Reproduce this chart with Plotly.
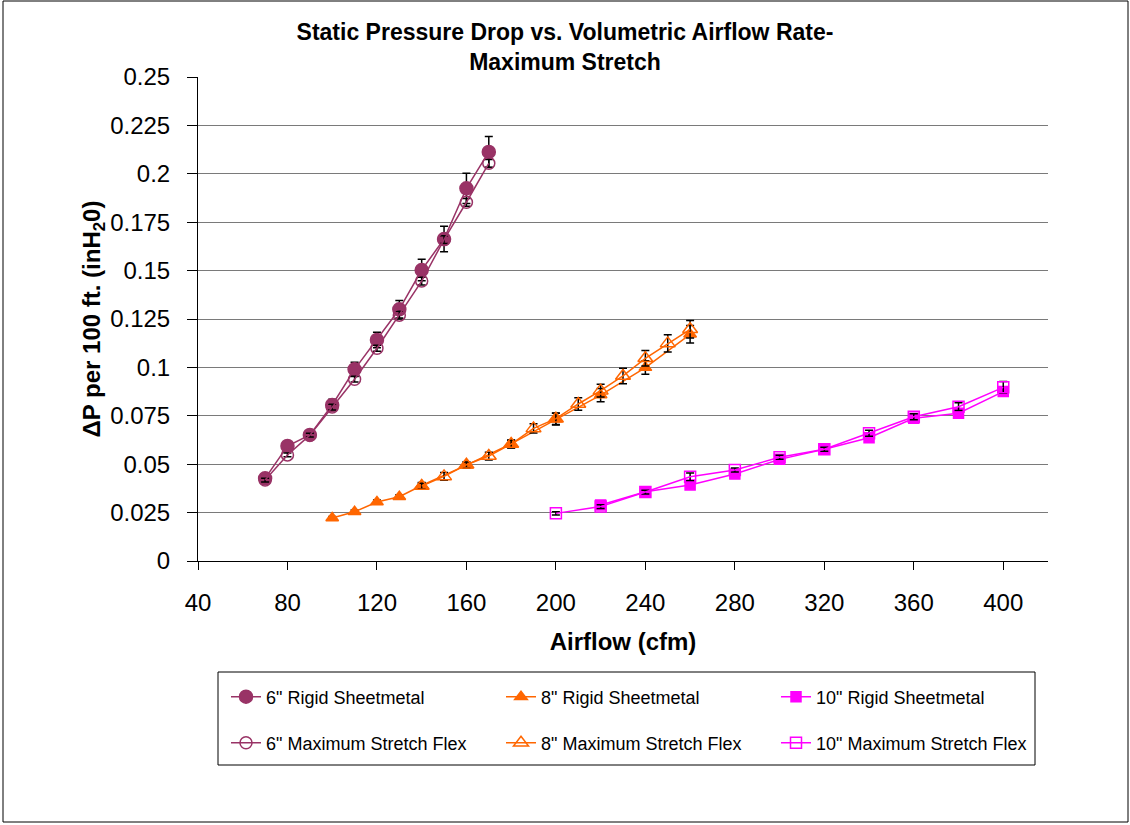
import plotly.graph_objects as go

# ---------------- data ----------------
x6 = [70, 80, 90, 100, 110, 120, 130, 140, 150, 160, 170]
y6_rigid = [0.0427, 0.0594, 0.0651, 0.0806, 0.0990, 0.1142, 0.1300, 0.1503, 0.1663, 0.1925, 0.2113]
e6_rigid = [0.0010, 0.0015, 0.0012, 0.0030, 0.0037, 0.0040, 0.0045, 0.0055, 0.0066, 0.0078, 0.0080]
y6_flex = [0.0418, 0.0548, 0.0650, 0.0795, 0.0939, 0.1099, 0.1270, 0.1446, 0.1660, 0.1853, 0.2054]
e6_flex = [0.0010, 0.0010, 0.0010, 0.0015, 0.0015, 0.0015, 0.0020, 0.0020, 0.0020, 0.0020, 0.0020]

x8_rigid = [100, 110, 120, 130, 140, 160, 180, 200, 220, 240, 260]
y8_rigid = [0.0222, 0.0254, 0.0305, 0.0332, 0.0390, 0.0495, 0.0605, 0.0733, 0.0857, 0.0999, 0.1171]
e8_rigid = [0.0008, 0.0010, 0.0010, 0.0010, 0.0015, 0.0015, 0.0020, 0.0030, 0.0034, 0.0035, 0.0045]
x8_flex = [140, 150, 160, 170, 180, 190, 200, 210, 220, 230, 240, 250, 260]
y8_flex = [0.0387, 0.0437, 0.0497, 0.0542, 0.0604, 0.0685, 0.0735, 0.0811, 0.0880, 0.0956, 0.1047, 0.1124, 0.1197]
e8_flex = [0.0015, 0.0020, 0.0015, 0.0020, 0.0020, 0.0024, 0.0030, 0.0032, 0.0033, 0.0040, 0.0040, 0.0045, 0.0045]

x10_rigid = [220, 240, 260, 280, 300, 320, 340, 360, 380, 400]
y10_rigid = [0.0289, 0.0358, 0.0393, 0.0449, 0.0525, 0.0577, 0.0637, 0.0737, 0.0763, 0.0875]
e10_rigid = [0.0008, 0.0008, 0.0010, 0.0010, 0.0010, 0.0010, 0.0010, 0.0015, 0.0015, 0.0020]
x10_flex = [200, 220, 240, 260, 280, 300, 320, 340, 360, 380, 400]
y10_flex = [0.0246, 0.0281, 0.0356, 0.0435, 0.0470, 0.0536, 0.0577, 0.0660, 0.0745, 0.0797, 0.0897]
e10_flex = [0.0008, 0.0010, 0.0010, 0.0020, 0.0010, 0.0010, 0.0010, 0.0015, 0.0015, 0.0020, 0.0030]

x_ticks = [40, 80, 120, 160, 200, 240, 280, 320, 360, 400]
y_ticks = [0, 0.025, 0.05, 0.075, 0.1, 0.125, 0.15, 0.175, 0.2, 0.225, 0.25]
y_ticktext = ["0", "0.025", "0.05", "0.075", "0.1", "0.125", "0.15", "0.175", "0.2", "0.225", "0.25"]

names = ['6" Rigid Sheetmetal', '8" Rigid Sheetmetal', '10" Rigid Sheetmetal',
         '6" Maximum Stretch Flex', '8" Maximum Stretch Flex', '10" Maximum Stretch Flex']

C6 = "#993366"
C8 = "#FF6600"
C10 = "#FF00FF"

FONT = "Liberation Sans, Arial, sans-serif"

fig = go.Figure()


def add(x, y, e, name, color, symbol, size, legend):
    fig.add_trace(go.Scatter(
        x=x, y=y, name=name, mode="lines+markers",
        line=dict(color=color, width=1.5),
        marker=dict(symbol=symbol, size=size, color=color,
                    line=dict(color=color, width=1.5)),
        error_y=dict(type="data", array=e, visible=True, color="black",
                     thickness=1.5, width=4),
        legend=legend,
    ))


add(x6, y6_rigid, e6_rigid, names[0], C6, "circle", 13, "legend")
add(x8_rigid, y8_rigid, e8_rigid, names[1], C8, "triangle-up", 11, "legend")
add(x10_rigid, y10_rigid, e10_rigid, names[2], C10, "square", 10, "legend")
add(x6, y6_flex, e6_flex, names[3], C6, "circle-open", 12, "legend2")
add(x8_flex, y8_flex, e8_flex, names[4], C8, "triangle-up-open", 13, "legend2")
add(x10_flex, y10_flex, e10_flex, names[5], C10, "square-open", 11, "legend2")

W, H = 1130, 825
L, R, T, B = 198, 1048, 77, 561


def px(xp):
    return (xp - L) / (R - L)


def py(yp):
    return (B - yp) / (B - T)


legend_common = dict(
    orientation="h", xanchor="left", yanchor="middle",
    font=dict(family=FONT, size=18, color="black"),
    bgcolor="rgba(0,0,0,0)", borderwidth=0,
    itemwidth=30, entrywidth=230, entrywidthmode="pixels",
    itemclick=False, itemdoubleclick=False,
)

fig.update_layout(
    width=W, height=H,
    margin=dict(l=L, r=W - R, t=T, b=H - B),
    paper_bgcolor="white", plot_bgcolor="white",
    font=dict(family=FONT, color="black"),
    title=dict(
        text="<b>Static Pressure Drop vs. Volumetric Airflow Rate-<br>Maximum Stretch</b>",
        x=0.5, xref="container", xanchor="center",
        y=1 - 40 / H, yref="container", yanchor="top",
        font=dict(family=FONT, size=23, color="black"),
    ),
    xaxis=dict(
        range=[40, 420], tickvals=x_ticks, ticktext=[str(v) for v in x_ticks],
        showgrid=False, zeroline=False,
        showline=True, linecolor="black", linewidth=1,
        ticks="outside", ticklen=8, tickcolor="black", tickwidth=1,
        tickfont=dict(family=FONT, size=24, color="black"),
        ticklabelstandoff=12,
        title=dict(text="<b>Airflow (cfm)</b>", standoff=18,
                   font=dict(family=FONT, size=24, color="black")),
    ),
    yaxis=dict(
        range=[0, 0.25], tickvals=y_ticks, ticktext=y_ticktext,
        showgrid=True, gridcolor="#7a7a7a", gridwidth=1,
        zeroline=False,
        showline=True, linecolor="black", linewidth=1,
        ticks="outside", ticklen=10, tickcolor="black", tickwidth=1,
        tickfont=dict(family=FONT, size=24, color="black"),
        ticklabelstandoff=12,
        title=dict(text="<b>ΔP per 100 ft. (inH<sub>2</sub>0)</b>", standoff=2,
                   font=dict(family=FONT, size=24, color="black")),
    ),
    legend=dict(x=px(226), y=py(697), **legend_common),
    legend2=dict(x=px(226), y=py(743), **legend_common),
    showlegend=True,
)

# legend box
fig.add_shape(type="rect", xref="paper", yref="paper",
              x0=px(218), x1=px(1035), y0=py(765), y1=py(672),
              line=dict(color="black", width=1), fillcolor="rgba(0,0,0,0)", layer="below")
# outer chart border
fig.add_shape(type="rect", xref="paper", yref="paper",
              x0=px(3), x1=px(1128), y0=py(822), y1=py(1),
              line=dict(color="black", width=1), fillcolor="rgba(0,0,0,0)", layer="below")

fig.write_html("out.html", config={"displayModeBar": False},
               post_script="document.body.style.margin='0px';")
